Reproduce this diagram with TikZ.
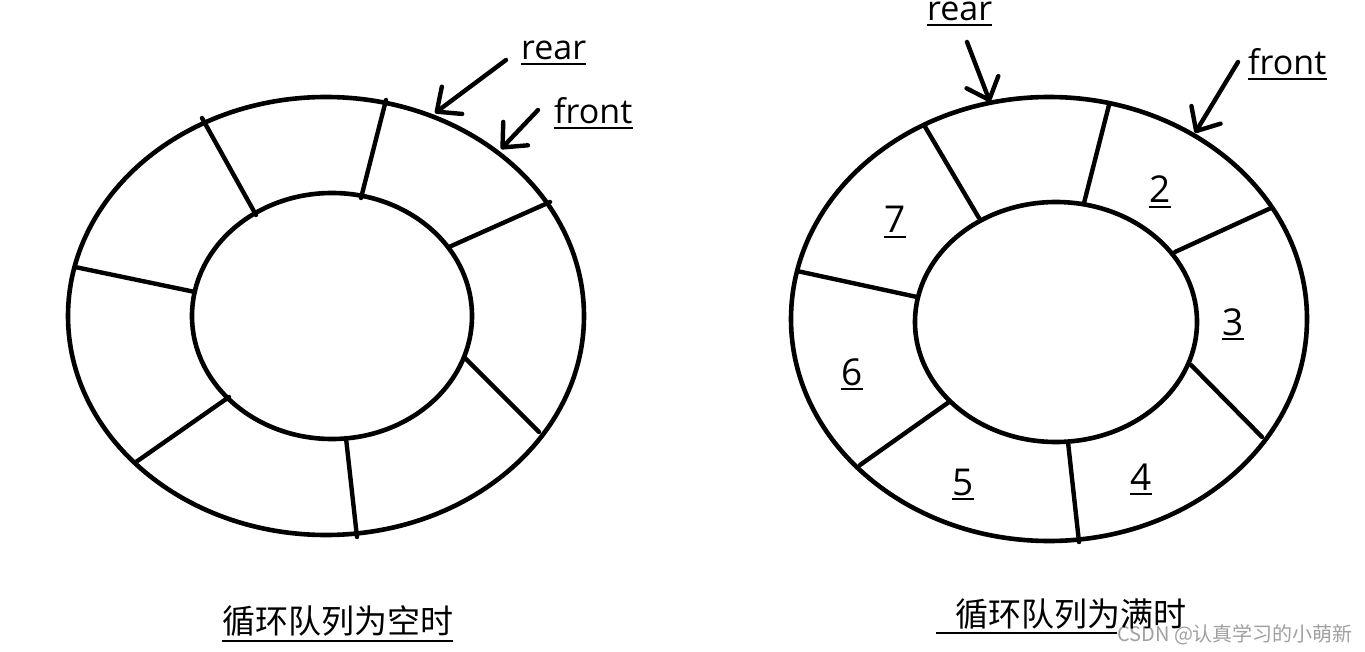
\documentclass[tikz,border=0pt]{standalone}
\usepackage{fontspec}
\setmainfont{Open Sans}
\newfontfamily\cjk{Noto Sans CJK SC}
\usepackage{xcolor}
\definecolor{cqgray}{HTML}{A0A0A0}
\usetikzlibrary{arrows.meta}
\tikzset{
  cqring/.style={line width=4.6pt},
  cqspoke/.style={line width=4.4pt,line cap=round},
  cqptr/.style={line width=4.4pt,line cap=round,-{Straight Barb[length=19pt,width=34pt,round]}},
  cqlabel/.style={anchor=base west,inner sep=0pt,font=\fontsize{34}{40}\selectfont},
  cqnum/.style={anchor=base,inner sep=0pt,font=\fontsize{37}{44}\selectfont},
  cqcap/.style={anchor=base west,inner sep=0pt,font=\cjk\fontsize{33}{40}\selectfont},
  cqul/.style={line width=2.2pt},
  cqmark/.style={anchor=base west,inner sep=0pt,fill=white,text=cqgray,font=\cjk\fontsize{20}{24}\selectfont},
}

\begin{document}
\begin{tikzpicture}[x=1pt,y=-1pt]
\useasboundingbox (0,0) rectangle (1365,652);
% empty queue
\draw[cqring] (326,316) ellipse [x radius=258pt,y radius=219pt];
\draw[cqring] (332,316) ellipse [x radius=140pt,y radius=123pt];
\foreach \ox/\oy/\ix/\iy in {386/100/361/198,202/118/256/215,75/267/195/292,136/462/229/397,357/537/346/438,539/432/465/358,550/202/449/247}
  \draw[cqspoke] (\ox,\oy) -- (\ix,\iy);
\node[cqlabel] (lrear) at (521,60) {rear};
\node[cqlabel] (lfront) at (554,124) {front};
\coordinate (lreart) at (506,60);
\coordinate (lreara) at (435,113);
\coordinate (lfrontt) at (538,110);
\coordinate (lfronta) at (501,149);
\draw[cqptr] (lreart) -- (lreara);
\draw[cqptr] (lfrontt) -- (lfronta);
\draw[cqul] ([yshift=-4pt]lrear.base west) -- ([yshift=-4pt]lrear.base east);
\draw[cqul] ([yshift=-4pt]lfront.base west) -- ([yshift=-4pt]lfront.base east);
% full queue
\draw[cqring] (1049,319) ellipse [x radius=258pt,y radius=222pt];
\draw[cqring] (1056,322) ellipse [x radius=141pt,y radius=120pt];
\foreach \ox/\oy/\ix/\iy in {1109/105/1084/203,924/125/979/218,797/271/917/297,860/465/949/402,1079/542/1068/442,1262/437/1191/365,1271/208/1175/252}
  \draw[cqspoke] (\ox,\oy) -- (\ix,\iy);
\foreach \n/\x/\y in {2/1160/203,3/1233/335,4/1141/490,5/963/495,6/852/385,7/895/233}{
  \node[cqnum] (num\n) at (\x,\y) {\n};
  \draw[cqul] ([yshift=-4pt]num\n.base west) -- ([yshift=-4pt]num\n.base east);
}
\node[cqlabel] (rrear) at (927,21) {rear};
\node[cqlabel] (rfront) at (1248,75) {front};
\coordinate (rreart) at (967,42);
\coordinate (rreara) at (990,102);
\coordinate (rfrontt) at (1238,62);
\coordinate (rfronta) at (1195,133);
\draw[cqptr] (rreart) -- (rreara);
\draw[cqptr] (rfrontt) -- (rfronta);
\draw[cqul] ([yshift=-4pt]rrear.base west) -- ([yshift=-4pt]rrear.base east);
\draw[cqul] ([yshift=-4pt]rfront.base west) -- ([yshift=-4pt]rfront.base east);
% captions
\node[cqcap] (lcap) at (222,633) {循环队列为空时};
\draw[cqul] ([yshift=-8pt]lcap.base west) -- ([yshift=-8pt]lcap.base east);
\node[cqcap,text opacity=0] (rcapu) at (955,626) {循环队列为满时};
\draw[cqul] ([xshift=-19pt,yshift=-7pt]rcapu.base west) -- ([yshift=-7pt]rcapu.base east);
\node[cqmark] (mark) at (1117,641) {CSDN @认真学习的小萌新};
\node[cqcap] (rcap) at (955,626) {循环队列为满时};
\end{tikzpicture}
\end{document}
